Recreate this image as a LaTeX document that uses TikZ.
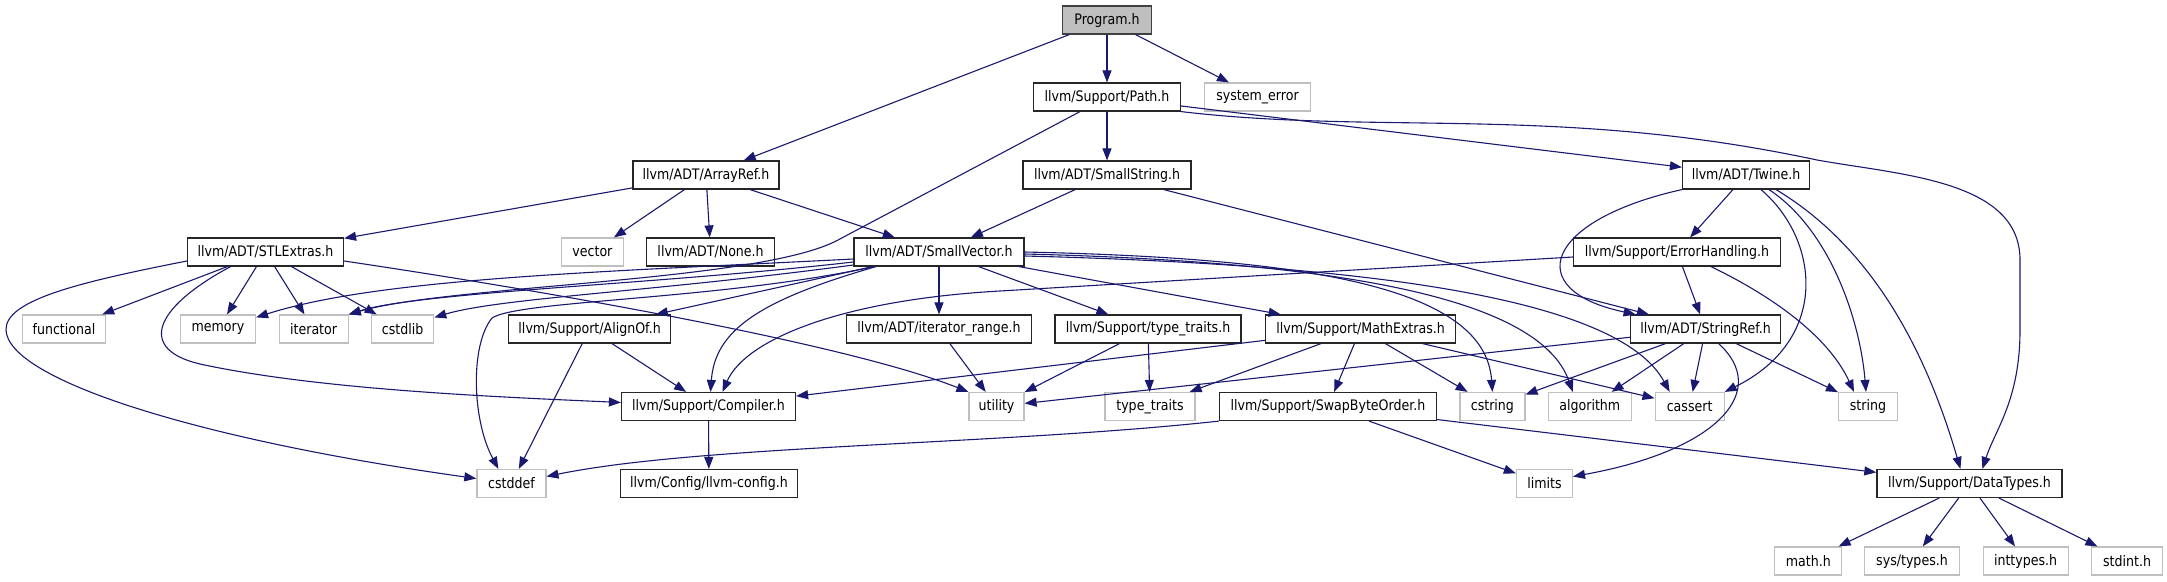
\documentclass[tikz,border=0pt]{standalone}
\usepackage{fontspec}
\setmainfont{DejaVu Sans}[FakeStretch=0.87]
\usepackage{xcolor}
\usepackage{tikz}
\usetikzlibrary{arrows.meta}
\definecolor{edgeblue}{HTML}{191970}
\definecolor{boxgray}{HTML}{BFBFBF}

\begin{document}
\begin{tikzpicture}[x=1pt,y=-1pt,
  every node/.style={rectangle,minimum height=28pt,inner sep=2pt,font=\fontsize{14.5}{17}\selectfont},
  hdr/.style={draw=black!85,line width=1.2pt,fill=white},
  sysh/.style={draw=boxgray,line width=1.2pt,fill=white},
  rootnode/.style={draw=black!75,line width=1.2pt,fill=boxgray},
  dep/.style={draw=edgeblue,line width=1.1pt,-{Triangle[length=12pt,width=9pt]}}
]
\useasboundingbox (0,0) rectangle (2167,581);

\node[rootnode,minimum width=89pt] (prog) at (1107,20) {Program.h};

\node[hdr,minimum width=147pt] (path) at (1107,97) {llvm/Support/Path.h};
\node[sysh,minimum width=106pt] (syserr) at (1257.5,97) {system\_error};

\node[hdr,minimum width=146pt] (arrayref) at (706,175) {llvm/ADT/ArrayRef.h};
\node[hdr,minimum width=168pt] (smallstr) at (1107,175) {llvm/ADT/SmallString.h};
\node[hdr,minimum width=127pt] (twine) at (1746,175) {llvm/ADT/Twine.h};

\node[hdr,minimum width=156pt] (stlx) at (265.5,252) {llvm/ADT/STLExtras.h};
\node[sysh,minimum width=62pt] (vector) at (592.4,252) {vector};
\node[hdr,minimum width=128pt] (noneh) at (710.6,252) {llvm/ADT/None.h};
\node[hdr,minimum width=170pt] (smallvec) at (939,252) {llvm/ADT/SmallVector.h};
\node[hdr,minimum width=207pt] (errh) at (1677,252) {llvm/Support/ErrorHandling.h};

\node[sysh,minimum width=83.5pt] (functional) at (64,329) {functional};
\node[sysh,minimum width=75pt] (memory) at (218,329) {memory};
\node[sysh,minimum width=69pt] (iterator) at (313.6,329) {iterator};
\node[sysh,minimum width=62pt] (cstdlib) at (402.7,329) {cstdlib};
\node[hdr,minimum width=162pt] (alignof) at (589.6,329) {llvm/Support/AlignOf.h};
\node[hdr,minimum width=184.5pt] (itrange) at (939,329) {llvm/ADT/iterator\_range.h};
\node[hdr,minimum width=186pt] (typetr) at (1148,329) {llvm/Support/type\_traits.h};
\node[hdr,minimum width=190pt] (mathx) at (1360.6,329) {llvm/Support/MathExtras.h};
\node[hdr,minimum width=150pt] (strref) at (1705.6,329) {llvm/ADT/StringRef.h};

\node[hdr,minimum width=174pt] (compiler) at (708.5,406.5) {llvm/Support/Compiler.h};
\node[sysh,minimum width=55pt] (utility) at (996.5,406.5) {utility};
\node[sysh,minimum width=90pt] (typetraits) at (1150,406.5) {type\_traits};
\node[hdr,minimum width=217pt] (swap) at (1328,406.5) {llvm/Support/SwapByteOrder.h};
\node[sysh,minimum width=65pt] (cstring) at (1492.4,406.5) {cstring};
\node[sysh,minimum width=82.6pt] (algorithm) at (1589.8,406.5) {algorithm};
\node[sysh,minimum width=69pt] (cassert) at (1689.6,406.5) {cassert};
\node[sysh,minimum width=59pt] (string) at (1868,406.5) {string};

\node[sysh,minimum width=69pt] (cstddef) at (511.4,483.5) {cstddef};
\node[hdr,minimum width=177.5pt] (llvmcfg) at (708.9,483.5) {llvm/Config/llvm-config.h};
\node[sysh,minimum width=56pt] (limits) at (1544.4,483.5) {limits};
\node[hdr,minimum width=185pt] (datatypes) at (1969.4,483.5) {llvm/Support/DataTypes.h};

\node[sysh,minimum width=67pt] (mathh) at (1808.3,561) {math.h};
\node[sysh,minimum width=94.5pt] (systypes) at (1912,561) {sys/types.h};
\node[sysh,minimum width=85pt] (inttypes) at (2025.6,561) {inttypes.h};
\node[sysh,minimum width=70.7pt] (stdint) at (2127,561) {stdint.h};

\draw[dep] (prog) -- (arrayref);
\draw[dep] (prog) -- (path);
\draw[dep] (prog) -- (syserr);

\draw[dep] (path) -- (smallstr);
\draw[dep] (path) -- (twine);
\draw[dep] ([xshift=-27pt]path.south) -- (838,240) .. controls (760,282) and (450,285) .. (iterator.north east);
\draw[dep] (path.south east) .. controls (1380,135) and (1560,105) .. (1817,160)
  .. controls (1900,175) and (2020,180) .. (2020,260) -- (2020,330)
  .. controls (2020,400) and (1995,430) .. ([xshift=13pt]datatypes.north);

\draw[dep] (arrayref) -- (stlx);
\draw[dep] (arrayref) -- (vector);
\draw[dep] (arrayref) -- (noneh);
\draw[dep] (arrayref) -- (smallvec);

\draw[dep] (smallstr) -- (smallvec);
\draw[dep] (smallstr) -- (strref);

\draw[dep] (twine) -- (errh);
\draw[dep] (twine.south west) .. controls (1545,220) and (1520,290) .. ([xshift=-70pt]strref.north);
\draw[dep] ([xshift=15pt]twine.south) .. controls (1820,240) and (1830,340) .. (cassert.north east);
\draw[dep] ([xshift=23pt]twine.south) .. controls (1830,230) and (1860,320) .. ([xshift=-2pt]string.north);
\draw[dep] ([xshift=30pt]twine.south) .. controls (1860,240) and (1920,330) .. ([xshift=-9pt]datatypes.north);

\draw[dep] (errh) -- (strref);
\draw[dep] ([yshift=-5pt]errh.west) -- (1000,291) .. controls (840,300) and (745,340) .. ([xshift=14pt]compiler.north);
\draw[dep] ([xshift=34pt]errh.south) .. controls (1780,300) and (1830,340) .. ([xshift=-14pt]string.north);

\draw[dep] (stlx) -- (functional);
\draw[dep] (stlx) -- (memory);
\draw[dep] (stlx) -- (iterator);
\draw[dep] (stlx) -- (cstdlib);
\draw[dep] ([xshift=-35pt]stlx.south) .. controls (150,310) and (140,350) .. (200,364)
  .. controls (320,390) and (500,397) .. ([yshift=4pt]compiler.west);
\draw[dep] ([yshift=-9pt]stlx.west) .. controls (80,282) and (5,300) .. (6,330)
  .. controls (8,380) and (200,440) .. ([yshift=5pt]cstddef.west);
\draw[dep] ([yshift=-9pt]stlx.east) .. controls (560,293) and (850,345) .. (utility.north west);

\draw[dep] ([yshift=-7pt]smallvec.west) .. controls (600,272) and (380,278) .. ([yshift=-3pt]memory.north east);
\draw[dep] ([yshift=-10pt]smallvec.west) .. controls (650,285) and (420,292) .. (iterator.north east);
\draw[dep] ([yshift=-13pt]smallvec.west) .. controls (650,292) and (500,298) .. ([yshift=-3pt]cstdlib.north east);
\draw[dep] ([xshift=-65pt]smallvec.south) .. controls (720,300) and (520,300) .. (492,318)
  .. controls (470,345) and (472,420) .. ([xshift=-13pt]cstddef.north);
\draw[dep] (smallvec) -- (alignof);
\draw[dep] ([xshift=-63pt]smallvec.south) .. controls (760,300) and (715,330) .. ([xshift=2pt]compiler.north);
\draw[dep] (smallvec) -- (itrange);
\draw[dep] (smallvec) -- (typetr);
\draw[dep] (smallvec) -- (mathx);
\draw[dep] (smallvec.east) .. controls (1300,258) and (1485,285) .. (cstring.north);
\draw[dep] ([yshift=-2pt]smallvec.east) .. controls (1350,262) and (1540,300) .. ([xshift=-17pt]algorithm.north);
\draw[dep] ([yshift=-4pt]smallvec.east) .. controls (1380,265) and (1620,300) .. ([xshift=-20pt]cassert.north);

\draw[dep] (alignof) -- (compiler);
\draw[dep] (alignof) -- (cstddef);
\draw[dep] (itrange) -- (utility);
\draw[dep] (typetr) -- (utility);
\draw[dep] (typetr) -- (typetraits);

\draw[dep] (mathx) -- (compiler);
\draw[dep] (mathx) -- (typetraits);
\draw[dep] (mathx) -- (swap);
\draw[dep] (mathx) -- (cstring);
\draw[dep] (mathx) -- (cassert);

\draw[dep] (strref) -- (utility);
\draw[dep] (strref) -- (cstring);
\draw[dep] (strref) -- (algorithm);
\draw[dep] (strref) -- (cassert);
\draw[dep] (strref) -- (string);
\draw[dep] ([xshift=13pt]strref.south) .. controls (1770,390) and (1720,450) .. ([yshift=7pt]limits.east);

\draw[dep] (compiler) -- (llvmcfg);
\draw[dep] (swap.south west) .. controls (1000,445) and (700,445) .. ([yshift=7pt]cstddef.east);
\draw[dep] (swap) -- (limits);
\draw[dep] (swap) -- (datatypes);

\draw[dep] (datatypes) -- (mathh);
\draw[dep] (datatypes) -- (systypes);
\draw[dep] (datatypes) -- (inttypes);
\draw[dep] (datatypes) -- (stdint);
\end{tikzpicture}
\end{document}
